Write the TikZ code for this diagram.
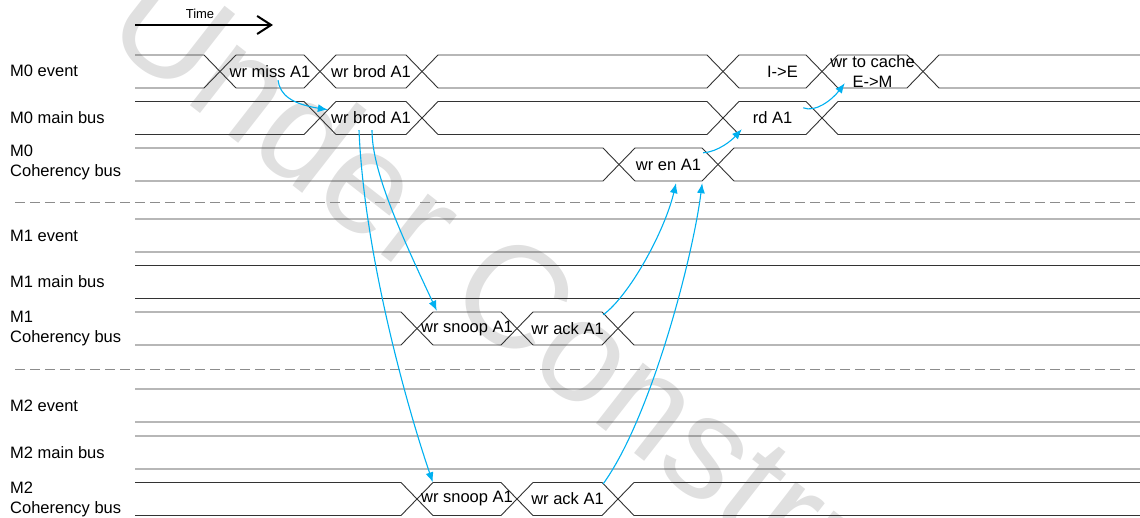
\documentclass[tikz,border=0pt]{standalone}
\usepackage{fontspec}
\setmainfont{Liberation Sans}
\usepackage{xcolor}
\usetikzlibrary{arrows.meta}
\usetikzlibrary{calc}

\definecolor{arrowblue}{RGB}{0,176,240}

% one bus row: top y, bottom y, crossing x list (last one off the page)
\newcommand{\sigrow}[3]{%
  \foreach \cx [remember=\cx as \px (initially 119)] in {#3} {
    \draw[sig] (\px+16,#1) -- (\cx-16,#1) -- (\cx+16,#2);
    \draw[sig] (\px+16,#2) -- (\cx-16,#2) -- (\cx+16,#1);
  }%
}

\begin{document}
\begin{tikzpicture}[
    x=1pt, y=-1pt,
    sig/.style={draw=black!80, line width=0.9pt},
    sep/.style={draw=black!45, line width=0.9pt, dash pattern=on 10pt off 5pt},
    lbl/.style={anchor=west, align=left, inner sep=0pt, font=\fontsize{16.5}{20}\selectfont},
    cell/.style={minimum width=100pt, minimum height=33pt, inner sep=0pt, align=center, font=\fontsize{16.5}{20}\selectfont},
    flow/.style={draw=arrowblue, line width=1.1pt, -{Latex[length=10pt,width=8pt]}}
]
\useasboundingbox (0,0) rectangle (1140,518);
\clip (0,0) rectangle (1140,518);

% watermark
\node[rotate=-38, anchor=base west, inner sep=0pt, text=black!12, font=\fontsize{145}{145}\selectfont] (wm) at (100,35) {Under Construction};

% time axis
\node[inner sep=0pt, font=\fontsize{13}{15}\selectfont] (time) at (200,14) {Time};
\coordinate (t0) at (135,25);
\coordinate (t1) at (273,25);
\draw[line width=2pt, -{Straight Barb[length=14pt,width=18pt]}] (t0) -- (t1);

% row labels
\node[lbl] (ev0) at (10,71) {M0 event};
\node[lbl] (mb0) at (10,118) {M0 main bus};
\node[lbl] (cb0) at (10,162) {M0\\Coherency bus};
\node[lbl] (ev1) at (10,235.5) {M1 event};
\node[lbl] (mb1) at (10,282) {M1 main bus};
\node[lbl] (cb1) at (10,328.5) {M1\\Coherency bus};
\node[lbl] (ev2) at (10,405.5) {M2 event};
\node[lbl] (mb2) at (10,452.5) {M2 main bus};
\node[lbl] (cb2) at (10,499) {M2\\Coherency bus};

% bus rows
\sigrow{55}{88}{220,320,422,723,822,923,1160}
\sigrow{101.5}{134.5}{320,422,723,822,1160}
\sigrow{148}{181}{619,718,1160}
\sigrow{219}{252}{1160}
\sigrow{265.5}{298.5}{1160}
\sigrow{312}{345}{417,517,618,1160}
\sigrow{389}{422}{1160}
\sigrow{436}{469}{1160}
\sigrow{482.5}{515.5}{417,517,618,1160}

% separators
\draw[sep] (15,202) -- (1140,202);
\draw[sep] (15,369) -- (1140,369);

% data cells
\node[cell] (m0miss) at (270,71.5) {wr miss A1};
\node[cell] (m0brod) at (371,71.5) {wr brod A1};
\node[cell, xshift=10pt] (m0ie) at (772.5,71.5) {I->E};
\node[cell] (m0cache) at (872.5,71.5) {wr to cache\\E->M};
\node[cell] (mb0brod) at (371,118) {wr brod A1};
\node[cell] (mb0rd) at (772.5,118) {rd A1};
\node[cell] (cb0en) at (668.5,164.5) {wr en A1};
\node[cell] (cb1snoop) at (467,328.5) {wr snoop A1};
\node[cell] (cb1ack) at (567.5,328.5) {wr ack A1};
\node[cell] (cb2snoop) at (467,499) {wr snoop A1};
\node[cell] (cb2ack) at (567.5,499) {wr ack A1};

% transactions
\draw[flow] ($(m0miss.south)+(8,-8)$) .. controls +(2,15) and +(-36,-6) .. ($(mb0brod.north west)+(7,8.5)$);
\draw[flow] ($(mb0brod.south)+(-12,-4.5)$) .. controls +(5,120) and +(-28,-82) .. ($(cb2snoop.north west)+(16,0)$);
\draw[flow] ($(mb0brod.south)+(1,-4.5)$) .. controls +(0,40) and +(-38,-81) .. ($(cb1snoop.north west)+(20,-1)$);
\draw[flow] ($(cb1ack.north east)+(-14.5,3)$) .. controls +(27,-20) and +(-11,47) .. ($(cb0en.south)+(7.5,2)$);
\draw[flow] ($(cb2ack.north east)+(-14.5,1.5)$) .. controls +(47,-65) and +(-10,78) .. ($(cb0en.south east)+(-16.5,2)$);
\draw[flow] ($(cb0en.north east)+(-15.5,5)$) .. controls +(15,-1) and +(-10,11) .. ($(mb0rd.south west)+(19.5,-5.5)$);
\draw[flow] ($(mb0rd.north east)+(-19.5,6.5)$) .. controls +(12,5) and +(-13,17) .. ($(m0cache.south west)+(22.5,-5)$);

\end{tikzpicture}
\end{document}
